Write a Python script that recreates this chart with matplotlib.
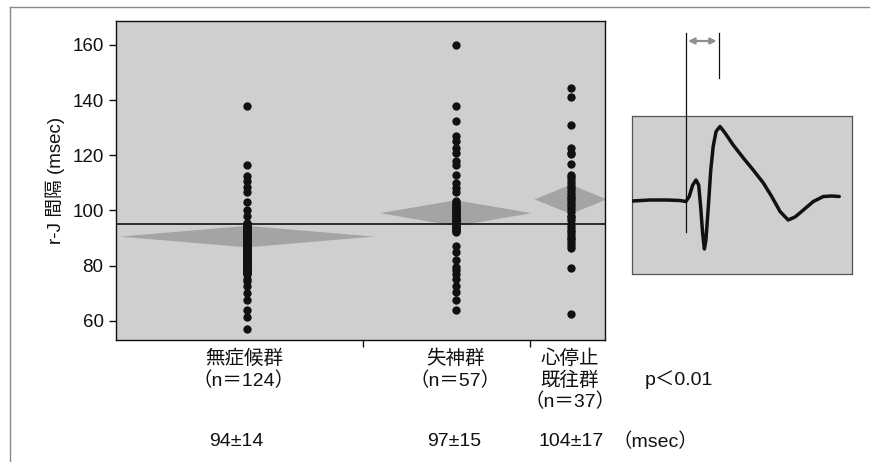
import matplotlib
matplotlib.use("Agg")
import matplotlib.pyplot as plt
from matplotlib.lines import Line2D

plt.rcParams['font.family'] = ['Liberation Sans', 'Noto Sans CJK JP']

# ---------------- data ----------------
groups = ["無症候群", "失神群", "心停止\n既往群"]
group_n = ["（n＝124）", "（n＝57）", "（n＝37）"]
summary = ["94±14", "97±15", "104±17"]
p_text = "p＜0.01"

asymptomatic = [
    138, 116.5, 112.5, 110.5, 108.5, 106.5, 103, 100, 98,
    95.5, 95, 95, 95, 94.5, 94, 94, 94, 94, 93.5, 93, 93, 93, 93, 93,
    92.5, 92, 92, 92, 92, 92, 91.5, 91, 91, 91, 91, 91, 90.5, 90, 90, 90, 90, 90,
    89.5, 89, 89, 89, 89, 89, 88.5, 88, 88, 88, 88, 88, 87.5, 87, 87, 87, 87, 87,
    86.5, 86, 86, 86, 86, 86, 85.5, 85, 85, 85, 85, 85, 84.5, 84, 84, 84, 84,
    83.5, 83, 83, 83, 83, 82.5, 82, 82, 82, 82, 81.5, 81, 81, 81, 80.5, 80, 80, 80,
    79.5, 79, 79, 79, 78.5, 78, 78, 78, 77.5, 77, 77,
    75, 74.5, 72.5, 70, 67.5, 64, 61.5, 57,
]
syncope = [
    160, 138, 132.5, 127, 125, 122.5, 121, 118, 116.5, 113, 110, 108, 106.5,
    103.5, 103, 102.5, 102, 101.5, 101, 101, 100.5, 100, 100, 99.5, 99, 99,
    98.5, 98, 98, 97.5, 97, 97, 96.5, 96, 96, 95.5, 95, 95, 94.5, 94, 94,
    93.5, 93, 93, 92.5, 92,
    87, 85, 82, 79.5, 78.5, 77, 75, 72.5, 70.5, 67.5, 64,
]
arrest = [
    144.5, 141, 131, 122.5, 121, 120.5, 117, 113, 112, 111, 110, 109, 108,
    107, 106, 105, 104.5, 103.5, 102.5, 101.5, 100.5, 99.5, 98, 97.5, 96.5,
    95, 94, 93, 92, 91, 90, 89.5, 88.5, 87.5, 86.5, 79, 62.5,
]
series = [asymptomatic, syncope, arrest]

# mean diamonds: centre and half-height of the confidence interval
diamond_center = [90.5, 99.0, 104.0]
diamond_half = [3.9, 4.7, 5.3]
grand_mean = 95.2

# surface electrocardiogram schematic (time, amplitude)
ecg_t = [0.1, 8.2, 15.8, 21.8, 24.5, 26.0, 27.6, 29.1, 30.3, 31.2, 32.1, 32.9,
         33.6, 34.7, 35.8, 36.9, 38.2, 40.0, 42.3, 46.0, 50.6, 55.1, 59.7,
         63.5, 67.3, 71.0, 74.1, 77.9, 82.4, 87.0, 90.8, 94.2]
ecg_a = [-0.01, 0.01, 0.01, 0.0, -0.02, 0.08, 0.31, 0.41, 0.31, -0.12, -0.65,
         -0.97, -0.79, -0.12, 0.61, 1.08, 1.38, 1.48, 1.35, 1.11, 0.85, 0.61,
         0.35, 0.08, -0.22, -0.39, -0.33, -0.19, -0.02, 0.08, 0.09, 0.08]
r_onset = 24.5
j_point = 39.5

# ---------------- layout ----------------
W, H = 876, 462
col_x = [0.268, 0.695, 0.930]          # dot columns (axes fraction)
diamond_w = [0.260, 0.155, 0.074]      # diamond half widths
boundaries = [0.505, 0.847]            # group separators on the x axis
plot_bg = "#cfcfcf"
diamond_col = "#a4a4a4"
ink = "#111111"

fig = plt.figure(figsize=(W / 100, H / 100), dpi=100)

def fx(px):
    return px / W

def fy(py):
    return 1 - py / H

ax = fig.add_axes([fx(116), fy(340), fx(605) - fx(116), fy(21) - fy(340)])
ax.set_facecolor(plot_bg)
ax.set_xlim(0, 1)
ax.set_ylim(53, 168.7)

for cx, hw, c, h in zip(col_x, diamond_w, diamond_center, diamond_half):
    ax.fill([cx - hw, cx, cx + hw, cx], [c, c + h, c, c - h],
            color=diamond_col, lw=0, zorder=1)

ax.axhline(grand_mean, color=ink, lw=1.2, zorder=2)

for cx, vals in zip(col_x, series):
    ax.scatter([cx] * len(vals), vals, s=36, color=ink, lw=0, zorder=3)

ax.set_yticks([60, 80, 100, 120, 140, 160])
ax.set_xticks(boundaries)
ax.set_xticklabels([])
ax.tick_params(axis='y', direction='out', length=5, width=1, pad=4,
               labelsize=13.5, color=ink, labelcolor=ink)
ax.tick_params(axis='x', direction='out', length=5, width=1, color=ink)
for s in ax.spines.values():
    s.set_color(ink)
    s.set_linewidth(1.0)
ax.set_ylabel("r-J 間隔 (msec)", fontsize=13.5, color=ink)
ax.yaxis.set_label_coords(-0.105, 0.5)

# group labels beneath the axis
label_x = [244, 455, 570]
fs = 14
for gx, g, n in zip(label_x, groups, group_n):
    lines = g.split("\n") + [n]
    for i, t in enumerate(lines):
        fig.text(fx(gx), fy(359 + 21.5 * i), t, ha='center', va='center',
                 fontsize=fs, color=ink)
fig.text(fx(209), fy(442), summary[0], ha='left', va='center', fontsize=fs, color=ink)
fig.text(fx(427), fy(442), summary[1], ha='left', va='center', fontsize=fs, color=ink)
fig.text(fx(538), fy(442), summary[2], ha='left', va='center', fontsize=fs, color=ink)
fig.text(fx(612), fy(442), "（msec）", ha='left', va='center', fontsize=fs, color=ink)
fig.text(fx(645), fy(380), p_text, ha='left', va='center', fontsize=fs, color=ink)

# inset electrocardiogram
ins = fig.add_axes([fx(632), fy(274), fx(852) - fx(632), fy(116) - fy(274)])
ins.set_facecolor(plot_bg)
ins.set_xlim(0, 100)
ins.set_ylim(-1.47, 1.69)
ins.set_xticks([])
ins.set_yticks([])
for s in ins.spines.values():
    s.set_color("#555555")
    s.set_linewidth(0.9)
ins.plot(ecg_t, ecg_a, color=ink, lw=2.5, solid_joinstyle='round',
         solid_capstyle='round', zorder=3)
ins.plot([r_onset, r_onset], [-0.63, 3.35], color=ink, lw=0.9, clip_on=False, zorder=4)
ins.plot([j_point, j_point], [2.44, 3.35], color=ink, lw=0.9, clip_on=False, zorder=4)
ins.annotate("", xy=(j_point - 1.0, 3.19), xytext=(r_onset + 1.0, 3.19),
             arrowprops=dict(arrowstyle='<|-|>', color='#8f8f8f', lw=1.6,
                             mutation_scale=9, shrinkA=0, shrinkB=0),
             annotation_clip=False)

# page frame
fig.add_artist(Line2D([fx(10), fx(10)], [0, fy(7)], color="#8a8a8a", lw=1.0))
fig.add_artist(Line2D([fx(10), fx(869)], [fy(7), fy(7)], color="#8a8a8a", lw=1.0))

fig.savefig("out.png", dpi=100)
